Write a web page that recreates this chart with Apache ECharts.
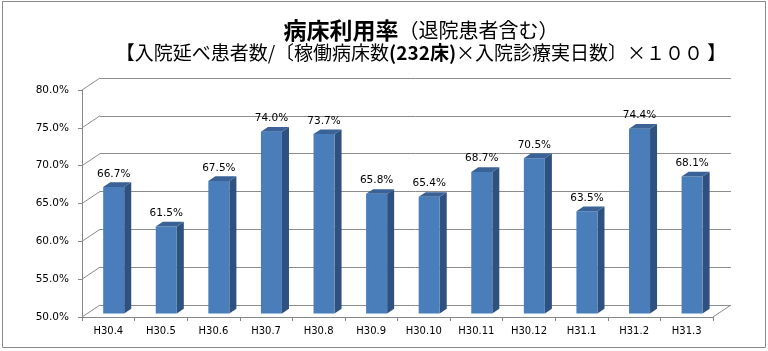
<!DOCTYPE html>
<html>
<head>
<meta charset="utf-8">
<script src="https://cdn.jsdelivr.net/npm/echarts@6/dist/echarts.min.js"></script>
<style>
html,body{margin:0;padding:0;background:#fff;}
#c{width:768px;height:351px;}
</style>
</head>
<body>
<div id="c"></div>
<script>
const categories = ['H30.4','H30.5','H30.6','H30.7','H30.8','H30.9','H30.10','H30.11','H30.12','H31.1','H31.2','H31.3'];
const values = [66.7, 61.5, 67.5, 74.0, 73.7, 65.8, 65.4, 68.7, 70.5, 63.5, 74.4, 68.1];
const yTicks = [50, 55, 60, 65, 70, 75, 80];
const yMin = 50, yMax = 80, yStep = 5;

const FRONT = {left: 82, top: 90, width: 631, height: 227};
const BACK = {left: 100, top: 78, width: 631, height: 227};
const DX = BACK.left - FRONT.left;   // depth vector x
const DY = BACK.top - FRONT.top;     // depth vector y
const F1 = 0.30, F2 = 0.69, BARW = 0.40;
const GRID = '#8c8c8c';
const FONT_NUM = 'DejaVu Sans';
const FONT_JP = 'Noto Sans CJK JP';

const chart = echarts.init(document.getElementById('c'), null, {renderer: 'canvas'});

const option = {
  animation: false,
  backgroundColor: '#ffffff',
  title: [
    {
      text: '{b|病床利用率}{n|（退院患者含む）}',
      left: 416, top: 12, textAlign: 'center',
      textStyle: {
        fontWeight: 'normal',
        rich: {
          b: {fontSize: 23, fontWeight: 'bold', fontFamily: FONT_JP, color: '#000', lineHeight: 26},
          n: {fontSize: 20, fontWeight: 'normal', fontFamily: FONT_JP, color: '#000', lineHeight: 26}
        }
      }
    },
    {
      text: '{n|【入院延べ患者数/〔稼働病床数}{b|(232床)}{n|×入院診療実日数〕×１００ 】}',
      left: 416, top: 37, textAlign: 'center',
      textStyle: {
        fontWeight: 'normal',
        rich: {
          n: {fontSize: 19, fontWeight: 'normal', fontFamily: FONT_JP, color: '#000', lineHeight: 22},
          b: {fontSize: 19, fontWeight: 'bold', fontFamily: FONT_JP, color: '#000', lineHeight: 22}
        }
      }
    }
  ],
  graphic: [
    {type: 'rect', shape: {x: 2.5, y: 1.5, width: 763, height: 346}, style: {fill: 'none', stroke: '#8a8a8a', lineWidth: 1}, silent: true, z: 100}
  ],
  grid: [
    {left: FRONT.left, top: FRONT.top, width: FRONT.width, height: FRONT.height},
    {left: BACK.left, top: BACK.top, width: BACK.width, height: BACK.height}
  ],
  xAxis: [
    {
      type: 'category', data: categories, gridIndex: 0,
      axisLine: {show: true, lineStyle: {color: '#868686', width: 1}},
      axisTick: {show: true, length: 4, lineStyle: {color: '#868686'}},
      axisLabel: {color: '#000', fontSize: 10, fontFamily: FONT_NUM, margin: 9},
      splitLine: {show: false}
    },
    {type: 'category', data: categories, gridIndex: 1, show: false}
  ],
  yAxis: [
    {
      type: 'value', gridIndex: 0, min: yMin, max: yMax, interval: yStep,
      axisLine: {show: true, lineStyle: {color: '#868686', width: 1}},
      axisTick: {show: true, length: 4, lineStyle: {color: '#868686'}},
      axisLabel: {color: '#000', fontSize: 10.5, fontFamily: FONT_NUM, margin: 13,
                  formatter: v => v.toFixed(1) + '%'},
      splitLine: {show: false}
    },
    {
      type: 'value', gridIndex: 1, min: yMin, max: yMax, interval: yStep,
      axisLine: {show: false}, axisTick: {show: false}, axisLabel: {show: false},
      splitLine: {show: true, lineStyle: {color: GRID, width: 1}}
    }
  ],
  series: [
    {
      type: 'custom', xAxisIndex: 0, yAxisIndex: 0, silent: true, z: 1,
      data: yTicks.map(v => [0, v]),
      renderItem: function (params, api) {
        const cs = params.coordSys;
        const v = api.value(1);
        const y = api.coord([0, v])[1];
        const children = [{
          type: 'line',
          shape: {x1: cs.x, y1: y, x2: cs.x + DX, y2: y + DY},
          style: {stroke: GRID, lineWidth: 1}
        }];
        if (v === yMin) {
          children.push({
            type: 'line',
            shape: {x1: cs.x + cs.width, y1: y, x2: cs.x + cs.width + DX, y2: y + DY},
            style: {stroke: GRID, lineWidth: 1}
          });
        }
        return {type: 'group', children: children};
      }
    },
    {
      type: 'custom', xAxisIndex: 0, yAxisIndex: 0, z: 5,
      data: values.map((v, i) => [i, v]),
      renderItem: function (params, api) {
        const i = api.value(0), v = api.value(1);
        const top = api.coord([i, v]);
        const base = api.coord([i, yMin]);
        const cw = api.size([1, 0])[0];
        const w = cw * BARW;
        const ox = DX * F1, oy = DY * F1;
        const sx = DX * (F2 - F1), sy = DY * (F2 - F1);
        const x0 = top[0] - w / 2 + ox, x1 = x0 + w;
        const yt = top[1] + oy, yb = base[1] + oy;
        return {
          type: 'group',
          children: [
            {type: 'polygon', shape: {points: [[x1, yt], [x1, yb], [x1 + sx, yb + sy], [x1 + sx, yt + sy]]},
             style: {fill: '#2f5180'}},
            {type: 'rect', shape: {x: x0, y: yt, width: w, height: yb - yt},
             style: {fill: '#4a7ebb'}},
            {type: 'polygon', shape: {points: [[x0, yt], [x1, yt], [x1 + sx, yt + sy], [x0 + sx, yt + sy]]},
             style: {fill: '#3a6296'}},
            {type: 'text', style: {text: v.toFixed(1) + '%', x: (x0 + x1) / 2, y: yt + sy - 3,
              align: 'center', verticalAlign: 'bottom', fontSize: 10.5, fontFamily: FONT_NUM, fill: '#000'}}
          ]
        };
      }
    }
  ]
};
chart.setOption(option);
</script>
</body>
</html>
